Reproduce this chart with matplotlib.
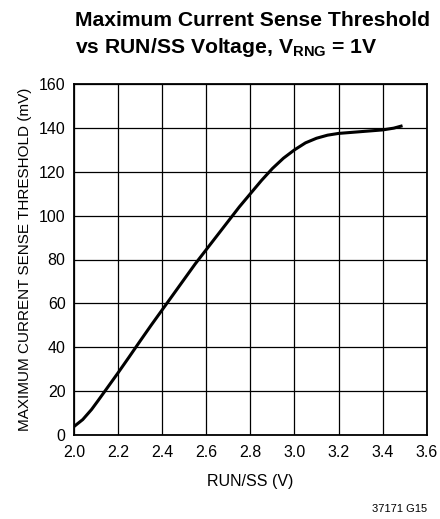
import matplotlib
matplotlib.use("Agg")
import matplotlib.pyplot as plt

# curve
run_ss = [2.0, 2.04, 2.08, 2.11, 2.14, 2.2, 2.25, 2.3, 2.35, 2.4, 2.45, 2.5, 2.55, 2.6,
          2.65, 2.7, 2.75, 2.8, 2.85, 2.9, 2.95, 3.0, 3.05, 3.1, 3.15, 3.2, 3.25,
          3.3, 3.35, 3.4, 3.45, 3.49]
threshold = [3.8, 7.0, 11.6, 15.7, 19.9, 28.3, 35.5, 42.8, 50, 57, 64, 71, 78, 84.5,
             91, 97.5, 104, 110, 116, 121.5, 126.2, 130, 133.2, 135.3, 136.7, 137.5, 137.9,
             138.3, 138.7, 139.1, 139.9, 141]

x_ticks = [2.0, 2.2, 2.4, 2.6, 2.8, 3.0, 3.2, 3.4, 3.6]
y_ticks = [0, 20, 40, 60, 80, 100, 120, 140, 160]

plt.rcParams['font.family'] = ['Liberation Sans', 'DejaVu Sans']
plt.rcParams['mathtext.fontset'] = 'custom'
plt.rcParams['mathtext.rm'] = 'Liberation Sans'
plt.rcParams['mathtext.bf'] = 'Liberation Sans:bold'

fig = plt.figure(figsize=(4.4, 5.19), dpi=100)
ax = fig.add_axes([0.168, 0.162, 0.802, 0.676])

ax.plot(run_ss, threshold, color='black', linewidth=2.2, solid_capstyle='butt')
ax.set_xlim(2.0, 3.6)
ax.set_ylim(0, 160)
ax.set_xticks(x_ticks)
ax.set_xticklabels([f"{v:.1f}" for v in x_ticks])
ax.set_yticks(y_ticks)
ax.grid(True, color='black', linewidth=0.9)
ax.tick_params(length=0, labelsize=11.5)
ax.tick_params(axis='x', pad=7)
ax.tick_params(axis='y', pad=6)
for s in ax.spines.values():
    s.set_linewidth(1.3)

ax.set_xlabel('RUN/SS (V)', fontsize=11.5, labelpad=10)
ax.set_ylabel('MAXIMUM CURRENT SENSE THRESHOLD (mV)', fontsize=11, labelpad=5)

fig.text(0.17, 0.978, 'Maximum Current Sense Threshold\nvs RUN/SS Voltage, V$_{\\mathbf{RNG}}$ = 1V',
         ha='left', va='top', fontsize=15.2, fontweight='bold', linespacing=1.3)
fig.text(0.97, 0.01, '37171 G15', ha='right', va='bottom', fontsize=8)

fig.savefig('out.png', dpi=100)
